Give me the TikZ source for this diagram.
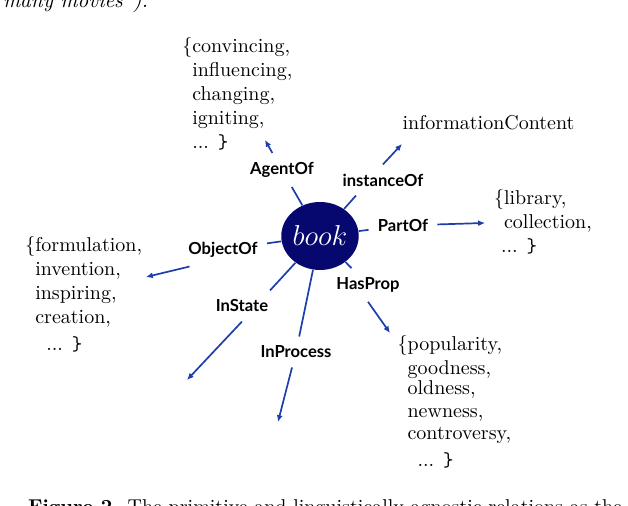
\documentclass[tikz,border=0pt]{standalone}
\usepackage{fontspec}
\usepackage{tikz}
\usetikzlibrary{positioning, arrows.meta, shapes.geometric}
\newfontfamily\relfont{Lato}
\definecolor{booknavy}{RGB}{6,8,112}
\definecolor{relblue}{RGB}{30,62,170}

\begin{document}
\begin{tikzpicture}[on grid,
	relname/.style={font=\relfont\bfseries\fontsize{8.3}{10}\selectfont, inner sep=4.5pt},
	valueset/.style={align=left, inner sep=0pt, font=\fontsize{10}{12}\selectfont},
	stem/.style={draw=relblue, line width=0.85pt},
	pointer/.style={stem, -{Latex[length=3.4pt,width=3pt]}}]

		\path[use as bounding box] (-160pt,-135pt) rectangle (154pt,118pt);

		% nodes - page text around the figure %
		\node[anchor=base west, font=\fontsize{10.5}{12}\selectfont\itshape] (prevline) at (-162pt,114pt) {many movies'').};
		\node[anchor=base west] (caption) at (-149.5pt,-139pt) {\textbf{Figure 2.} The primitive and linguistically agnostic relations as the};

		% nodes - centre and relation labels %
		\node[ellipse, fill=booknavy, minimum width=38pt, minimum height=34pt, inner sep=0pt, text=white, font=\fontsize{13.5}{16}\selectfont] (book) {$book$};
		\node[relname, above left=33pt and 19pt of book] (agent) {AgentOf};
		\node[relname, above right=28pt and 31.5pt of book] (instance) {instanceOf};
		\node[relname, above right=5.25pt and 41.5pt of book] (partof) {PartOf};
		\node[relname, below right=24.5pt and 24pt of book] (hasprop) {HasProp};
		\node[relname, below left=6.75pt and 48.5pt of book] (objectof) {ObjectOf};
		\node[relname, below left=35pt and 39pt of book] (instate) {InState};
		\node[relname, below left=58pt and 12pt of book] (inprocess) {InProcess};

		% nodes - values %
		\node[valueset, above left=37.25pt and 22.35pt of agent] (agentset) {\{convincing,\\ \phantom{\{}influencing,\\ \phantom{\{}changing,\\ \phantom{\{}igniting,\\ \phantom{\{}... {\ttfamily\}}};
		\node[valueset, above right=28.85pt and 52.75pt of instance] (info) {informationContent};
		\node[valueset, above right=2pt and 70pt of partof] (libset) {\{library,\\ \phantom{\{}collection,\\ \hspace*{3.5pt}... {\ttfamily\}}};
		\node[valueset, below right=58.6pt and 43.2pt of hasprop] (propset) {\{popularity,\\ \phantom{\{}goodness,\\[-2pt] \phantom{\{}oldness,\\[-0.5pt] \phantom{\{}newness,\\[-1pt] \phantom{\{}controversy,\\[1.5pt] \hspace*{10pt}... {\ttfamily\}}};
		\node[valueset, below left=22.5pt and 69.65pt of objectof] (formset) {\{formulation,\\ \phantom{\{}invention,\\ \phantom{\{}inspiring,\\ \phantom{\{}creation,\\[1.5pt] \hspace*{10.5pt}... {\ttfamily\}}};

		% arrow tips %
		\coordinate[above left=15pt and 8.5pt of agent] (agenttip);
		\coordinate[above right=18pt and 9.5pt of instance] (infotip);
		\coordinate[above right=1.25pt and 41pt of partof] (libtip);
		\coordinate[below right=24pt and 11pt of hasprop] (proptip);
		\coordinate[below left=13.75pt and 38.5pt of objectof] (formtip);
		\coordinate[below left=37pt and 27.5pt of instate] (statetip);
		\coordinate[below left=35pt and 9pt of inprocess] (processtip);

		% edges %
		\draw[stem] (book) -- (agent);
		\draw[stem] (book) -- (instance.210);
		\draw[stem] (book) -- (partof);
		\draw[stem] (book) -- (hasprop);
		\draw[stem] (book) -- (objectof);
		\draw[stem] (book) -- (instate.29);
		\draw[stem] (book) -- (inprocess);

		\draw[pointer] (agent) -- (agenttip);
		\draw[pointer] (instance.north) -- (infotip);
		\draw[pointer] (partof) -- (libtip);
		\draw[pointer] (hasprop.south) -- (proptip);
		\draw[pointer] (objectof.207) -- (formtip);
		\draw[pointer] (instate.south) -- (statetip);
		\draw[pointer] (inprocess) -- (processtip);

\end{tikzpicture}
\end{document}
